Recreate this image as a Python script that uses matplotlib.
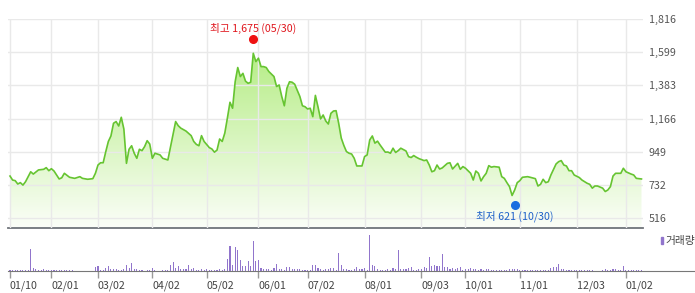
import numpy as np
import matplotlib.pyplot as plt
from matplotlib.colors import to_rgb
from matplotlib.patches import PathPatch, Rectangle
from matplotlib.transforms import offset_copy

# trading-day index (0 = 01/10) and closing price
price_day = [0, 1, 2, 3, 4, 5, 6, 8, 9, 11,
             13, 14, 15, 16, 17, 19, 20, 21, 23, 25,
             27, 28, 30, 32, 33, 34, 35, 36, 37, 38,
             39, 40, 41, 42, 43, 44, 45, 46, 47, 48,
             49, 50, 51, 52, 53, 54, 55, 56, 58, 59,
             61, 64, 65, 66, 68, 70, 71, 72, 73, 74,
             75, 77, 78, 79, 80, 81, 82, 83, 84, 85,
             86, 87, 88, 89, 90, 91, 92, 93, 94, 95,
             96, 97, 98, 99, 100, 102, 103, 104, 105, 106,
             107, 108, 109, 110, 112, 113, 114, 115, 116, 117,
             118, 119, 120, 121, 122, 123, 124, 125, 126, 127,
             128, 129, 130, 131, 132, 133, 134, 136, 137, 138,
             139, 140, 141, 142, 143, 145, 146, 147, 148, 149,
             150, 151, 153, 154, 155, 156, 157, 158, 160, 161,
             162, 163, 164, 165, 166, 167, 169, 170, 171, 173,
             174, 175, 176, 178, 179, 180, 181, 182, 183, 184,
             185, 186, 187, 189, 190, 191, 192, 193, 194, 195,
             196, 197, 198, 200, 201, 203, 204, 205, 206, 207,
             208, 209, 211, 212, 213, 214, 215, 216, 217, 218,
             220, 221, 223, 224, 225, 226, 227, 229, 230, 231,
             232, 233, 234, 236, 237, 238, 240, 241, 242, 244]
price_close = [790, 764, 760, 738, 747, 731, 753, 818, 803, 830,
               834, 845, 825, 838, 823, 771, 779, 808, 782, 775,
               786, 775, 769, 773, 808, 862, 877, 877, 949, 1016,
               1052, 1135, 1146, 1117, 1174, 1097, 873, 965, 988, 939,
               906, 965, 956, 982, 1021, 999, 906, 939, 928, 906,
               895, 1146, 1119, 1103, 1084, 1054, 1016, 997, 988, 1054,
               1016, 976, 967, 946, 960, 1032, 1016, 1071, 1169, 1272,
               1233, 1406, 1499, 1440, 1461, 1410, 1396, 1403, 1592, 1538,
               1560, 1505, 1505, 1499, 1473, 1440, 1375, 1385, 1310, 1249,
               1364, 1406, 1403, 1390, 1310, 1249, 1243, 1228, 1233, 1178,
               1317, 1243, 1163, 1189, 1150, 1130, 1200, 1215, 1217, 1135,
               1038, 990, 950, 939, 934, 906, 856, 856, 917, 928,
               1026, 1052, 1005, 1018, 993, 946, 947, 939, 972, 944,
               956, 972, 954, 917, 911, 924, 913, 904, 891, 895,
               862, 818, 825, 862, 836, 843, 873, 877, 836, 873,
               834, 852, 841, 808, 764, 823, 808, 758, 786, 808,
               858, 848, 852, 848, 786, 775, 747, 721, 663, 699,
               747, 760, 782, 786, 782, 773, 725, 736, 769, 747,
               753, 797, 869, 884, 891, 862, 856, 825, 825, 797,
               780, 764, 743, 736, 711, 725, 725, 711, 689, 699,
               721, 790, 808, 808, 841, 818, 803, 797, 775, 771]

# daily volume (relative units), one per trading day
volume = [1, 1, 1, 1, 1, 1, 1, 1, 22, 3,
          2, 1, 1, 2, 1, 1, 1, 1, 1, 1,
          1, 1, 1, 1, 1, 0, 0, 0, 0, 0,
          0, 0, 0, 4, 5, 1, 1, 3, 5, 2,
          2, 2, 1, 1, 2, 6, 3, 8, 2, 2,
          1, 1, 0, 1, 1, 3, 1, 0, 0, 1,
          1, 1, 6, 9, 3, 5, 2, 2, 2, 6,
          2, 3, 1, 1, 2, 1, 2, 1, 1, 1,
          1, 2, 1, 2, 12, 25, 6, 24, 21, 11,
          5, 5, 10, 5, 30, 10, 11, 3, 2, 2,
          2, 1, 3, 7, 2, 2, 1, 4, 4, 2,
          2, 2, 2, 1, 1, 1, 1, 6, 6, 3,
          2, 1, 2, 2, 3, 3, 1, 18, 6, 2,
          2, 1, 1, 2, 4, 2, 2, 3, 1, 36,
          6, 5, 2, 1, 1, 1, 2, 1, 3, 2,
          21, 2, 2, 2, 3, 4, 1, 1, 2, 2,
          4, 3, 14, 5, 6, 5, 5, 17, 4, 4,
          2, 3, 2, 3, 4, 1, 2, 2, 3, 2,
          2, 1, 2, 1, 2, 2, 1, 1, 1, 1,
          1, 1, 1, 2, 2, 2, 2, 1, 1, 1,
          1, 1, 1, 1, 1, 1, 1, 1, 1, 3,
          4, 4, 7, 2, 2, 1, 1, 1, 1, 1,
          1, 1, 1, 1, 1, 1, 0, 0, 0, 1,
          2, 1, 1, 2, 2, 1, 1, 5, 1, 1,
          1, 1, 1, 1, 1]

month_pos = [0, 16, 34, 55, 76, 96, 115, 137, 159, 176, 197, 219, 238]
month_labels = ["01/10", "02/01", "03/02", "04/02", "05/02", "06/01", "07/02",
                "08/01", "09/03", "10/01", "11/01", "12/03", "01/02"]
y_ticks = [516, 732, 949, 1166, 1383, 1599, 1816]

high_day, high_value, high_date = 94, 1675, "05/30"
low_day, low_value, low_date = 195, 621, "10/30"

plt.rcParams['font.family'] = ['Noto Sans CJK KR', 'DejaVu Sans']

W, H = 695, 293
fig = plt.figure(figsize=(W / 100, H / 100), dpi=100)
ax = fig.add_axes([8 / W, 65 / H, 635 / W, 209 / H])
axv = fig.add_axes([8 / W, 22 / H, 687 / W, 40 / H])

px = 2.588  # pixels per trading day
x0 = -2 / px
x1 = x0 + 635 / px
ylo = 516 - 10 * 1300 / 199

# gradient fill under the price line
top = np.array(to_rgb('#b6ed86'))
bot = np.array(to_rgb('#fbfef8'))
t = np.linspace(0, 1, 256)[:, None]
grad = (top * (1 - t) + bot * t)[:, None, :]
img = ax.imshow(grad, extent=[x0, x1, ylo, 1600], aspect='auto',
                origin='upper', zorder=1, interpolation='bilinear')
poly = ax.fill_between(price_day, price_close, ylo, facecolor='none', edgecolor='none')
clip = PathPatch(poly.get_paths()[0], transform=ax.transData,
                 facecolor='none', edgecolor='none')
ax.add_patch(clip)
img.set_clip_path(clip)

ax.plot(price_day, price_close, color='#66c431', lw=1.2, zorder=3)

ax.set_xlim(x0, x1)
ax.set_ylim(ylo, 1816)
ax.set_xticks(month_pos)
ax.set_yticks(y_ticks)
ax.set_yticklabels([f"{v:,}" for v in y_ticks])
ax.yaxis.tick_right()
ax.tick_params(axis='y', length=0, pad=4, labelsize=7.7, labelcolor='#555555')
ax.tick_params(axis='x', length=0, labelbottom=False)
ax.grid(color='#e9e9e9', lw=1)
ax.set_axisbelow(False)
for s in ['top', 'left', 'right']:
    ax.spines[s].set_visible(False)
ax.spines['bottom'].set_color('#6f747a')
ax.spines['bottom'].set_linewidth(1.3)

# high / low markers
ax.plot(high_day, high_value, 'o', color='#ee1111', ms=5.5, zorder=4,
        transform=offset_copy(ax.transData, fig, x=0, y=2, units='dots'))
ax.annotate(f"최고 {high_value:,} ({high_date})", (high_day, high_value),
            xytext=(0, 9), textcoords='offset points', ha='center', va='center',
            fontsize=7.7, color='#e0161d')
ax.plot(low_day, low_value, 'o', color='#1a6fe0', ms=5.5, zorder=4,
        transform=offset_copy(ax.transData, fig, x=0, y=-3, units='dots'))
ax.annotate(f"최저 {low_value:,} ({low_date})", (low_day, low_value),
            xytext=(0, -10), textcoords='offset points', ha='center', va='center',
            fontsize=7.7, color='#1f62c9')

# volume panel
axv.bar(np.arange(len(volume)), volume, width=0.42, color='#9175cc',
        linewidth=0, antialiased=False)
axv.set_xlim(x0, x0 + 687 / px)
axv.set_ylim(0, 40)
axv.set_yticks([])
axv.set_xticks(month_pos)
axv.set_xticklabels(month_labels)
for lab in axv.get_xticklabels():
    lab.set_ha('left')
axv.tick_params(axis='x', length=5, width=1, color='#999999', labelsize=7.7,
                labelcolor='#444444', pad=1.5)
for s in ['top', 'left', 'right']:
    axv.spines[s].set_visible(False)
axv.spines['bottom'].set_color('#777777')

fig.patches.append(Rectangle((661 / W, 1 - 244 / H), 2.3 / W, 7 / H,
                             transform=fig.transFigure, color='#9175cc'))
fig.text(665 / W, 1 - 241 / H, "거래량", fontsize=7.7, color='#444444', va='center')

fig.savefig('out.png', dpi=100, facecolor='white')
